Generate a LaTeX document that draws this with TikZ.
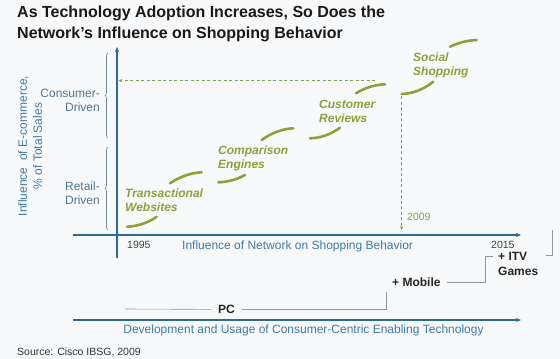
\documentclass[tikz,border=0pt]{standalone}
\usepackage{fontspec}
\setmainfont{Liberation Sans}
\usetikzlibrary{arrows.meta, decorations.pathreplacing}
\definecolor{chartBg}{RGB}{248,249,250}
\definecolor{axisBlue}{RGB}{45,108,145}
\definecolor{labelBlue}{RGB}{62,122,170}
\definecolor{braceBlue}{RGB}{110,135,155}
\definecolor{sideBlue}{RGB}{78,118,148}
\definecolor{leafGreen}{RGB}{137,163,58}
\definecolor{dashGreen}{RGB}{120,168,70}
\definecolor{techGray}{RGB}{150,150,150}

\begin{document}
\begin{tikzpicture}[x=1pt, y=-1pt,
    title/.style={anchor=base west, inner sep=0pt, align=left, font=\fontsize{16}{20.5}\selectfont\bfseries, text=black!90},
    yLabel/.style={rotate=90, inner sep=0pt, align=center, font=\fontsize{12}{15}\selectfont, text=labelBlue},
    side/.style={anchor=east, inner sep=0pt, align=right, font=\fontsize{12}{14}\selectfont, text=sideBlue},
    stage/.style={anchor=base west, inner sep=0pt, align=left, font=\fontsize{12}{14}\selectfont\bfseries\itshape, text=leafGreen},
    tick/.style={anchor=base west, inner sep=0pt, font=\fontsize{10.5}{12}\selectfont, text=black!75},
    axisText/.style={anchor=base west, inner sep=0pt, font=\fontsize{12}{14}\selectfont, text=labelBlue},
    year/.style={anchor=base west, inner sep=0pt, font=\fontsize{10.5}{12}\selectfont, text=dashGreen},
    device/.style={anchor=base, inner ysep=0pt, inner xsep=6.5pt, font=\fontsize{12}{15}\selectfont\bfseries, text=black!85},
    source/.style={anchor=base west, inner sep=0pt, font=\fontsize{10.5}{12}\selectfont, text=black!80},
    axis/.style={draw=axisBlue, line width=1.3pt, -{Stealth[length=5pt, width=4pt]}},
    guide/.style={draw=dashGreen, line width=0.8pt, dash pattern=on 3pt off 2.5pt, -{Stealth[length=4pt, width=3.5pt]}},
    bracket/.style={draw=braceBlue, line width=0.6pt, decorate, decoration={brace, amplitude=3pt}},
    leaf/.style={draw=leafGreen, line width=2.6pt, line cap=round},
    techline/.style={draw=techGray, line width=0.6pt}
]
    \fill[chartBg] (0,0) rectangle (560,359);
    \useasboundingbox (0,0) rectangle (560,359);

    \node[title] (heading) at (17,38) {As Technology Adoption Increases, So Does the\\Network’s Influence on Shopping Behavior};

    \node[yLabel] (share) at (30,146) {Influence\ \ of E-commerce,\\\% of Total Sales};
    \node[side] (consumer) at (100,100) {Consumer-\\Driven};
    \node[side] (retail) at (100,193) {Retail-\\Driven};

    \coordinate (consumerLo) at (108,138);
    \coordinate (consumerHi) at (108,53);
    \coordinate (retailLo) at (108,230);
    \coordinate (retailHi) at (108,147);
    \draw[bracket] (consumerLo) -- (consumerHi);
    \draw[bracket] (retailLo) -- (retailHi);

    \coordinate (yFoot) at (117,258);
    \coordinate (yTop) at (117,47);
    \coordinate (xStart) at (73,235);
    \coordinate (xEnd) at (521,235);
    \coordinate (techStart) at (73,320);
    \coordinate (techEnd) at (521,320);
    \draw[axis] (yFoot) -- (yTop);
    \draw[axis] (xStart) -- (xEnd);
    \draw[axis] (techStart) -- (techEnd);

    \node[tick] (first) at (127,248.5) {1995};
    \node[tick] (last) at (491,248.5) {2015};
    \node[axisText] (network) at (182,249.5) {Influence of Network on Shopping Behavior};
    \node[axisText, anchor=base] (tech) at (303.5,333.5) {Development and Usage of Consumer-Centric Enabling Technology};
    \node[source] (src) at (17,355.5) {Source: Cisco IBSG, 2009};

    \coordinate (peak) at (375,80.7);
    \coordinate (yHit) at (118.5,80.7);
    \coordinate (turn) at (401.7,96);
    \coordinate (now) at (401.7,230);
    \draw[guide] (peak) -- (yHit);
    \draw[guide] (turn) -- (now);
    \node[year] (year) at (407,220) {2009};

    \draw[leaf] (127,226.7) .. controls (137,226.2) and (147,223.5) .. (156.7,216.7);
    \draw[leaf] (170,183.3) .. controls (180,176.5) and (191,172.8) .. (201.7,172.3);
    \draw[leaf] (218.3,182.3) .. controls (227,182) and (236,180) .. (245,175);
    \draw[leaf] (261.7,140) .. controls (272,132.5) and (283,128.8) .. (293.3,128.3);
    \draw[leaf] (310,138.3) .. controls (320,138) and (330,135) .. (340,127.7);
    \draw[leaf] (356,93.3) .. controls (365.5,87.5) and (375,84.7) .. (385,84.3);
    \draw[leaf] (401.7,94) .. controls (412,93.6) and (423,90) .. (433.3,81.7);
    \draw[leaf] (450,46.7) .. controls (459,42.5) and (468,40.3) .. (476.7,40);

    \node[stage] (websites) at (125,211.7) {Transactional\\Websites};
    \node[stage] (engines) at (218,168.5) {Comparison\\Engines};
    \node[stage] (reviews) at (319,122.5) {Customer\\Reviews};
    \node[stage] (social) at (413,75.7) {Social\\Shopping};

    \node[device] (pc) at (226.5,313.5) {PC};
    \node[device, anchor=base west, inner xsep=0pt] (mobileText) at (392,286.5) {+ Mobile};
    \node[device, anchor=base west, inner xsep=0pt, align=left, font=\fontsize{12}{15}\selectfont\bfseries] (itv) at (498,275.5) {+ ITV\\Games};
    \coordinate (pcTail) at (125,309);
    \coordinate (pcStep) at (386,292);
    \coordinate (mobileTail) at (447,282.3);
    \coordinate (itvCorner) at (485,256.5);
    \coordinate (itvTail) at (493,256.5);
    \coordinate (gamesTop) at (552,230);
    \coordinate (gamesFoot) at (552,255);
    \coordinate (gamesEnd) at (546,255);
    \draw[techline] (pcTail) -- (pc.west);
    \draw[techline] (pc.east) -| (pcStep);
    \draw[techline] (mobileTail) -| (itvCorner) -- (itvTail);
    \draw[techline] (gamesTop) -- (gamesFoot) -- (gamesEnd);
\end{tikzpicture}
\end{document}
